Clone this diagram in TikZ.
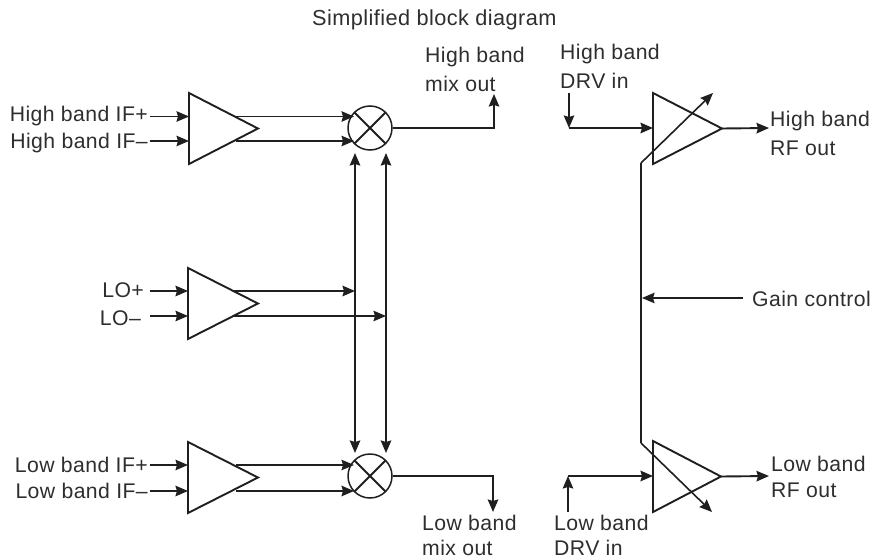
\documentclass[tikz,border=0pt]{standalone}
\usepackage{fontspec}
\setmainfont{Liberation Sans}[LetterSpace=2]
\usetikzlibrary{arrows.meta}
\tikzset{
  wire/.style={line width=1.9pt,draw=black!88},
  thin wire/.style={line width=1.6pt,draw=black!88},
  arr/.style={-{Stealth[length=12.5pt,width=10.5pt,inset=1.5pt]}},
  both/.style={{Stealth[length=12.5pt,width=10.5pt,inset=1.5pt]}-{Stealth[length=12.5pt,width=10.5pt,inset=1.5pt]}},
  lbl/.style={inner sep=0pt,text=black!82,font=\fontsize{21.2}{26.5}\selectfont,align=left},
  mixer/.style={circle,draw=black!88,line width=1.5pt,minimum size=44pt,inner sep=0pt,path picture={
    \draw[line width=1.8pt,black!88] (path picture bounding box.north west)--(path picture bounding box.south east);
    \draw[line width=1.8pt,black!88] (path picture bounding box.north east)--(path picture bounding box.south west);}},
}
\newcommand{\amp}[4]{% name, x, top y, tip x
  \coordinate (#1a) at (#2,#3);
  \coordinate (#1b) at (#2,#3+71);
  \coordinate (#1t) at (#4,#3+35.5);
  \draw[wire] (#1a)--(#1t)--(#1b)--cycle;
}
\begin{document}
\begin{tikzpicture}[x=1pt,y=-1pt]
\useasboundingbox (0,0) rectangle (885,559);
\fill[white] (0,0) rectangle (885,559);

\node[lbl,anchor=west,font=\fontsize{21.7}{26.5}\selectfont] (title) at (312,20) {Simplified block diagram};

\amp{H}{189}{93}{258}
\amp{M}{188}{268}{258}
\amp{L}{188}{442}{258}
\amp{DH}{653}{93}{722}
\amp{DL}{653}{441}{721}

\node[mixer] (mh) at (370,128) {};
\node[mixer] (ml) at (370,476) {};

% Left labels
\node[lbl,anchor=east] (hip) at (148,116) {High band IF+};
\node[lbl,anchor=east] (him) at (148,143) {High band IF–};
\node[lbl,anchor=east] (lop) at (144,290) {LO+};
\node[lbl,anchor=east] (lom) at (141,318) {LO–};
\node[lbl,anchor=east] (lip) at (148,465) {Low band IF+};
\node[lbl,anchor=east] (lim) at (148,491) {Low band IF–};

\draw[thin wire,arr] (150,116.5) -- (189,116.5);
\draw[thin wire,arr] (150,141) -- (189,141);
\draw[wire,arr] (150,291) -- (188,291);
\draw[thin wire,arr] (150,316) -- (188,316);
\draw[thin wire,arr] (150,465) -- (188,465);
\draw[wire,arr] (150,491) -- (188,491);

% To mixers
\draw[thin wire,arr] (236,116.5) -- (354,116.5);
\draw[thin wire,arr] (236,141) -- (354,141);
\draw[thin wire,arr] (236,465) -- (354,465);
\draw[wire,arr] (236,491) -- (354,491);

% Verticals
\draw[wire,both] (355,153) -- (355,453);
\draw[wire,both] (386,153) -- (386,453);

% LO outputs
\draw[wire,arr] (234,291) -- (355,291);
\draw[thin wire,arr] (234,316) -- (386,316);

% Mix out
\coordinate (hmc) at (494,128);
\coordinate (hme) at (494,94);
\draw[wire,arr] (mh.east) -- (hmc) -- (hme);
\coordinate (lmc) at (493,476);
\coordinate (lme) at (493,512);
\draw[wire,arr] (ml.east) -- (lmc) -- (lme);

\node[lbl,anchor=west] (hmo) at (425,57) {High band};
\node[lbl,anchor=west] (hmo2) at (425,84) {mix out};
\node[lbl,anchor=west] (lmo) at (422,523) {Low band};
\node[lbl,anchor=west] (lmo2) at (422,548) {mix out};

% DRV in
\node[lbl,anchor=west] (hdi) at (560,54) {High band};
\node[lbl,anchor=west] (hdi2) at (560,81) {DRV in};
\node[lbl,anchor=west] (ldi) at (554,523) {Low band};
\node[lbl,anchor=west] (ldi2) at (554,548) {DRV in};
\coordinate (hds) at (569,93);
\coordinate (hdc) at (569,128);
\coordinate (lds) at (568,512);
\coordinate (ldc) at (568,476);
\draw[thin wire,arr] (hds) -- (hdc);
\draw[wire,arr] (hdc) -- (653,128);
\draw[thin wire,arr] (lds) -- (ldc);
\draw[wire,arr] (ldc) -- (653,476);

% RF out
\node[lbl,anchor=west] (hrf) at (770,121) {High band};
\node[lbl,anchor=west] (hrf2) at (770,148) {RF out};
\node[lbl,anchor=west] (lrf) at (771,464) {Low band};
\node[lbl,anchor=west] (lrf2) at (771,490) {RF out};
\draw[wire,arr] (DHt) -- (769,128);
\draw[wire,arr] (DLt) -- (769,476);

% Gain control
\coordinate (gh) at (641,163);
\coordinate (gl) at (641,443);
\coordinate (gte) at (713,93);
\draw[thin wire,arr] (gh) -- (gte);
\draw[wire] (gh) -- (gl);
\coordinate (gbe) at (712,512);
\draw[thin wire,arr] (gl) -- (gbe);
\node[lbl,anchor=west] (gc) at (752,299) {Gain control};
\coordinate (gcs) at (743,298);
\coordinate (gct) at (642,298);
\draw[thin wire,arr] (gcs) -- (gct);
\end{tikzpicture}
\end{document}
